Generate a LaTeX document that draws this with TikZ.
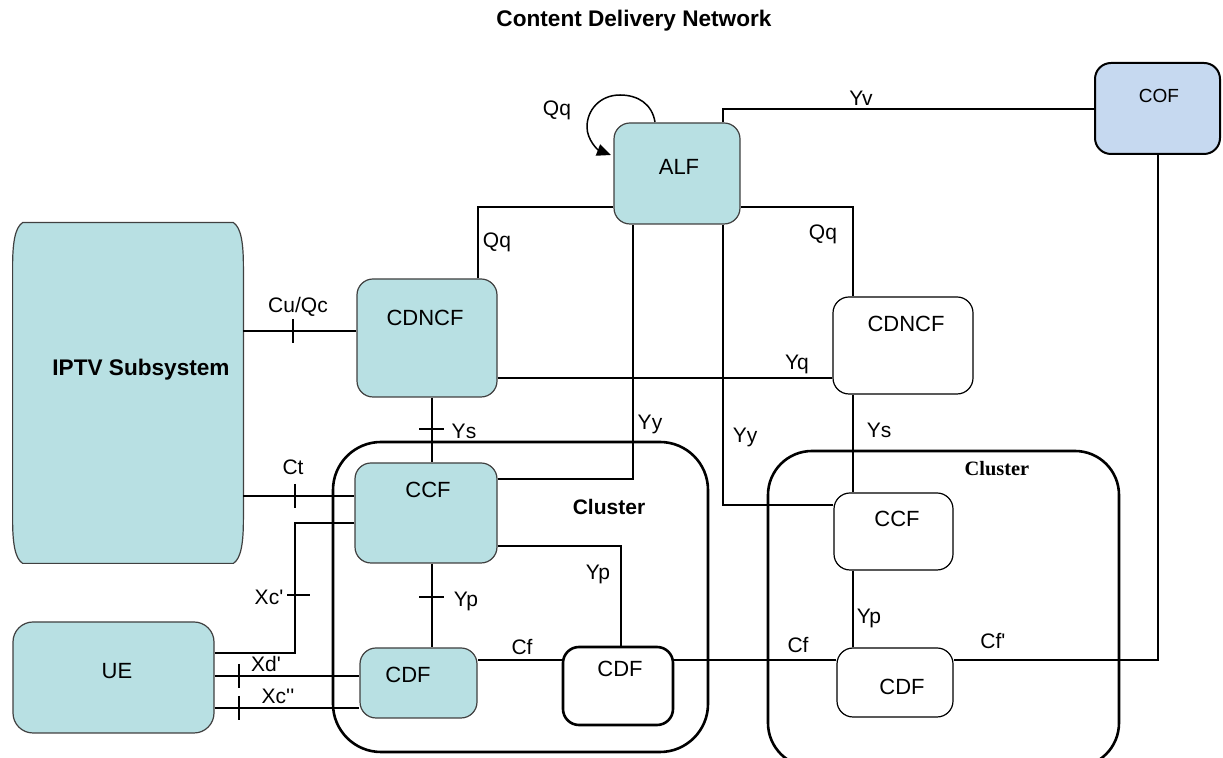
\documentclass[tikz,border=0pt]{standalone}
\usepackage{fontspec}
\setmainfont{Liberation Sans}[Ligatures=TeXOff]
\newfontfamily\clusterfont{Liberation Serif}
\usetikzlibrary{arrows.meta,calc}

\definecolor{tealfill}{RGB}{184,224,227}
\definecolor{cofill}{RGB}{198,217,240}
\definecolor{boxline}{RGB}{64,64,64}

\begin{document}
\begin{tikzpicture}[x=0.5pt,y=0.5pt,yscale=-1,xscale=1,
  fbox/.style={draw=boxline,line width=0.6pt,fill=tealfill,rounded corners=8pt,inner sep=0pt},
  wbox/.style={draw=black,line width=0.6pt,fill=white,rounded corners=8pt,inner sep=0pt},
  clusterbox/.style={draw,line width=1.3pt,rounded corners=24pt,inner sep=0pt},
  thickline/.style={line width=1.3pt},
  thinline/.style={line width=0.65pt},
  tick/.style={line width=1.3pt},
  boxtext/.style={inner sep=0pt,font=\fontsize{11}{13}\selectfont},
  lbl/.style={inner sep=0pt,font=\fontsize{10.5}{12}\selectfont}]
\useasboundingbox (0,0) rectangle (1223,758);

%Shape: Clusters
\node[clusterbox,minimum width=187.5pt,minimum height=155pt] (clusterL) at (520.5,597) {};
\node[clusterbox,rounded corners=22pt,minimum width=175.5pt,minimum height=158pt] (clusterR) at (943.5,609) {};

%Shape: IPTV subsystem, bulging sides
\node[inner sep=0pt,minimum width=115pt,minimum height=170pt] (iptv) at (128,393) {};
\draw[draw=boxline,line width=0.6pt,fill=tealfill]
  ($(iptv.north west)+(10,0)$) -- ($(iptv.north east)+(-10,0)$)
  .. controls ($(iptv.north east)+(-2,5)$) and ($(iptv.north east)+(0,22)$) .. ($(iptv.north east)+(0,44)$)
  -- ($(iptv.south east)+(0,-44)$)
  .. controls ($(iptv.south east)+(0,-22)$) and ($(iptv.south east)+(-2,-5)$) .. ($(iptv.south east)+(-10,0)$)
  -- ($(iptv.south west)+(10,0)$)
  .. controls ($(iptv.south west)+(2,-5)$) and ($(iptv.south west)+(0,-22)$) .. ($(iptv.south west)+(0,-44)$)
  -- ($(iptv.north west)+(0,44)$)
  .. controls ($(iptv.north west)+(0,22)$) and ($(iptv.north west)+(2,5)$) .. cycle;

%Shape: Rounded Rects
\node[fbox,rounded corners=10pt,minimum width=100.5pt,minimum height=55.5pt] (ue) at (113.5,677.5) {};
\node[fbox,minimum width=70pt,minimum height=59pt] (cdncfL) at (427,338) {};
\node[fbox,minimum width=71pt,minimum height=50pt] (ccfL) at (426,513) {};
\node[fbox,minimum width=58.5pt,minimum height=35pt] (cdfL) at (418.5,683) {};
\node[wbox,line width=1.3pt,minimum width=55pt,minimum height=39pt] (cdfM) at (618,686) {};
\node[fbox,minimum width=63pt,minimum height=50.5pt] (alf) at (677,173.5) {};
\node[fbox,fill=cofill,draw=black,line width=1pt,minimum width=62.5pt,minimum height=45.5pt] (cof) at (1157.5,108.5) {};
\node[wbox,minimum width=70pt,minimum height=48.5pt] (cdncfR) at (903,345.5) {};
\node[wbox,minimum width=59.5pt,minimum height=38.5pt] (ccfR) at (893.5,531.5) {};
\node[wbox,minimum width=58pt,minimum height=34.5pt] (cdfR) at (895,682.5) {};

%Points on the interfaces
\coordinate (tCuQc) at (293,331);
\coordinate (tCt) at (295,496);
\coordinate (tYsL) at (432,429);
\coordinate (tYpL) at (432,597);
\coordinate (xcTop) at (295,523);
\coordinate (tXc) at (295,595);
\coordinate (xcBot) at (295,653);
\coordinate (tXd) at (239,676);
\coordinate (tXcc) at (239,708);
\coordinate (qL) at (478,207);
\coordinate (qR) at (853,207);
\coordinate (yv) at (723,109);
\coordinate (yq) at (797,378);
\coordinate (yyL) at (633,479);
\coordinate (yyR) at (723,505);
\coordinate (ypM) at (621,546);
\coordinate (cf) at (522,660);
\coordinate (cfp) at (1158,660);
\coordinate (lqS) at (655,122);
\coordinate (lqE) at (611,155);

%Straight Lines: thick reference points
\draw[thickline] (iptv.east |- tCuQc) -- (cdncfL.west |- tCuQc);
\draw[tick] (tCuQc) ++(0,-12) -- ++(0,24);
\draw[thickline] (iptv.east |- tCt) -- (ccfL.west |- tCt);
\draw[tick] (tCt) ++(0,-12) -- ++(0,24);
\draw[thickline] (cdncfL.south -| tYsL) -- (ccfL.north -| tYsL);
\draw[tick] (tYsL) ++(-13,0) -- ++(25,0);
\draw[thickline] (ccfL.south -| tYpL) -- (cdfL.north -| tYpL);
\draw[tick] (tYpL) ++(-13,0) -- ++(25,0);
\draw[thickline] (ccfL.west |- xcTop) -- (xcTop) -- (xcBot) -- (ue.east |- xcBot);
\draw[tick] (tXc) ++(-8,0) -- ++(23,0);
\draw[thickline] (ue.east |- tXd) -- (cdfL.west |- tXd);
\draw[tick] (tXd) ++(0,-12) -- ++(0,24);
\draw[thickline] (ue.east |- tXcc) -- (cdfL.west |- tXcc);
\draw[tick] (tXcc) ++(0,-12) -- ++(0,24);

%Straight Lines: thin
\draw[thinline] (cdncfL.north -| qL) |- (alf.west |- qL);
\draw[thinline] (alf.east |- qR) -| (cdncfR.north -| qR);
\draw[thinline] (alf.north -| yv) |- (cof.west |- yv);
\draw[thinline] (cdncfL.east |- yq) -- (cdncfR.west |- yq);
\draw[thinline] (ccfL.east |- yyL) -| (alf.south -| yyL);
\draw[thinline] (alf.south -| yyR) |- (ccfR.west |- yyR);
\draw[thinline] (cdncfR.south -| qR) -- (ccfR.north -| qR);
\draw[thinline] (ccfR.south -| qR) -- (cdfR.north -| qR);
\draw[thinline] (ccfL.east |- ypM) -| (cdfM.north -| ypM);
\draw[thinline] (cdfL.east |- cf) -- (cdfM.west |- cf);
\draw[thinline,line width=0.9pt] (cdfM.east |- cf) -- (cdfR.west |- cf);
\draw[thinline,line width=0.9pt] (cdfR.east |- cfp) -| (cof.south -| cfp);

%Curve Lines: loop on ALF
\draw[line width=0.75pt,-{Triangle[length=7pt,width=6pt]}] (lqS) .. controls (652,104) and (638,95) .. (620,95) .. controls (600,95) and (587,110) .. (587,127) .. controls (587,140) and (598,150) .. (lqE);

% Text Node
\node[anchor=base,inner sep=0pt,font=\bfseries\fontsize{11.3}{13}\selectfont] (title) at (634,27) {Content Delivery Network};
\node[inner sep=0pt,font=\bfseries\fontsize{11.3}{13}\selectfont] (tIptv) at (141,370) {IPTV Subsystem};
\node[boxtext] (tUe) at (117,671) {UE};
\node[boxtext] (tCdncfL) at (425,318) {CDNCF};
\node[boxtext] (tCcfL) at (428,490) {CCF};
\node[boxtext] (tCdfL) at (408,675) {CDF};
\node[boxtext] (tCdfM) at (620,669) {CDF};
\node[boxtext] (tAlf) at (679,167) {ALF};
\node[boxtext,font=\fontsize{9.5}{11}\selectfont] (tCof) at (1159,96) {COF};
\node[boxtext] (tCdncfR) at (906,324) {CDNCF};
\node[boxtext] (tCcfR) at (897,519) {CCF};
\node[boxtext] (tCdfR) at (902,687) {CDF};
\node[inner sep=0pt,font=\bfseries\fontsize{10.5}{12}\selectfont] (tClusterL) at (609,507) {Cluster};
\node[inner sep=0pt,font=\clusterfont\bfseries\fontsize{10.2}{12}\selectfont] (tClusterR) at (997,469) {Cluster};
% Text Node: interfaces
\node[lbl] (lCuQc) at (298,307) {Cu/Qc};
\node[lbl] (lCt) at (293,467) {Ct};
\node[lbl] (lYsL) at (464,431) {Ys};
\node[lbl] (lYpL) at (466,601) {Yp};
\node[lbl] (lXc) at (269,597) {Xc'};
\node[lbl] (lXd) at (266,664) {Xd'};
\node[lbl] (lXcc) at (278,696) {Xc''};
\node[lbl] (lQqL) at (497,242) {Qq};
\node[lbl] (lQqR) at (823,234) {Qq};
\node[lbl] (lQqLoop) at (557,110) {Qq};
\node[lbl] (lYv) at (861,98) {Yv};
\node[lbl] (lYq) at (797,364) {Yq};
\node[lbl] (lYyL) at (650,424) {Yy};
\node[lbl] (lYyR) at (745,437) {Yy};
\node[lbl] (lYsR) at (879,430) {Ys};
\node[lbl] (lYpM) at (598,574) {Yp};
\node[lbl] (lYpR) at (869,618) {Yp};
\node[lbl] (lCfL) at (522,647) {Cf};
\node[lbl] (lCfR) at (798,645) {Cf};
\node[lbl] (lCfp) at (993,641) {Cf'};

\end{tikzpicture}
\end{document}
